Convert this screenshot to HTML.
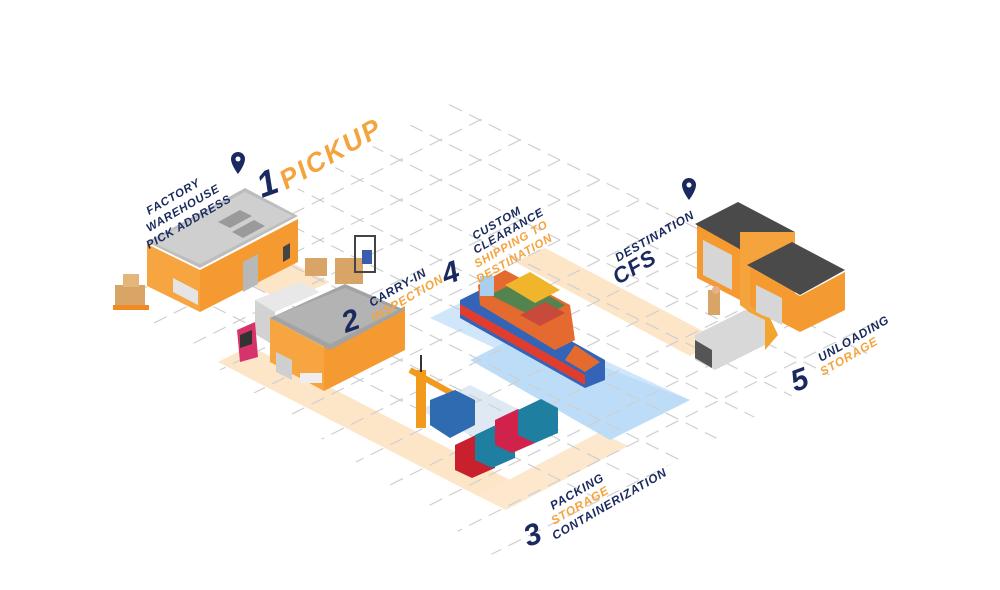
<!DOCTYPE html>
<html><head><meta charset="utf-8"><style>
html,body{margin:0;padding:0;background:#fff;width:1000px;height:590px;overflow:hidden}
svg{display:block}
text{font-family:"Liberation Sans",sans-serif;font-weight:bold;font-style:italic;letter-spacing:0.8px}
.n{fill:#1b2a5e}.o{fill:#f5a33c}
</style></head><body>
<svg width="1000" height="590" viewBox="0 0 1000 590" xmlns="http://www.w3.org/2000/svg">
<defs>
<clipPath id="g"><polygon points="455,100 900,335 500,560 110,295"/></clipPath>
</defs>
<polygon points="245,282 290,262 330,282 285,302" fill="#fde5c8"/>
<polygon points="218,362 250,346 510,480 478,496" fill="#fde5c8"/>
<polygon points="478,496 600,432 628,446 506,510" fill="#fde5c8" opacity=".9"/>
<polygon points="515,262 545,248 720,340 690,356" fill="#fde5c8"/>
<polygon points="430,318 470,298 690,400 650,420" fill="#cfe6fb"/>
<polygon points="470,360 520,335 690,400 610,440" fill="#bcdcf7"/>
<polygon points="420,410 470,385 560,430 510,455" fill="#dfe9f3"/>
<g clip-path="url(#g)" stroke="#cfcfcf" stroke-width="1.2" stroke-dasharray="14,8">
<g>
<line x1="-200" y1="100" x2="1200" y2="800"/><line x1="-200" y1="60" x2="1200" y2="760"/><line x1="-200" y1="20" x2="1200" y2="720"/><line x1="-200" y1="-20" x2="1200" y2="680"/><line x1="-200" y1="-60" x2="1200" y2="640"/><line x1="-200" y1="-100" x2="1200" y2="600"/><line x1="-200" y1="-140" x2="1200" y2="560"/><line x1="-200" y1="-180" x2="1200" y2="520"/><line x1="-200" y1="-220" x2="1200" y2="480"/><line x1="-200" y1="-260" x2="1200" y2="440"/><line x1="-200" y1="-300" x2="1200" y2="400"/><line x1="-200" y1="-340" x2="1200" y2="360"/><line x1="-200" y1="-380" x2="1200" y2="320"/><line x1="-200" y1="-420" x2="1200" y2="280"/><line x1="-200" y1="-460" x2="1200" y2="240"/><line x1="-200" y1="-500" x2="1200" y2="200"/>
</g>
<g>
<line x1="-200" y1="300" x2="1200" y2="-400"/><line x1="-200" y1="340" x2="1200" y2="-360"/><line x1="-200" y1="380" x2="1200" y2="-320"/><line x1="-200" y1="420" x2="1200" y2="-280"/><line x1="-200" y1="460" x2="1200" y2="-240"/><line x1="-200" y1="500" x2="1200" y2="-200"/><line x1="-200" y1="540" x2="1200" y2="-160"/><line x1="-200" y1="580" x2="1200" y2="-120"/><line x1="-200" y1="620" x2="1200" y2="-80"/><line x1="-200" y1="660" x2="1200" y2="-40"/><line x1="-200" y1="700" x2="1200" y2="0"/><line x1="-200" y1="740" x2="1200" y2="40"/><line x1="-200" y1="780" x2="1200" y2="80"/><line x1="-200" y1="820" x2="1200" y2="120"/><line x1="-200" y1="860" x2="1200" y2="160"/><line x1="-200" y1="900" x2="1200" y2="200"/><line x1="-200" y1="940" x2="1200" y2="240"/><line x1="-200" y1="980" x2="1200" y2="280"/>
</g>
</g>
<!-- warehouse 1 -->
<polygon points="147,244 200,270 200,312 147,286" fill="#f7a540"/>
<polygon points="200,270 298,219 298,262 200,312" fill="#f59a30"/>
<polygon points="147,242 245,188 298,216 200,268" fill="#bdbdbd"/>
<polygon points="151,242 245,192 293,216 200,264" fill="#cfcfcf"/>
<polygon points="218,222 240,210 252,216 230,228" fill="#9a9a9a"/>
<polygon points="232,232 254,220 265,226 243,238" fill="#9a9a9a"/>
<polygon points="173,278 198,291 198,305 173,292" fill="#e5e5e5"/>
<polygon points="243,262 258,254 258,284 243,292" fill="#b8b8b8"/>
<polygon points="283,247 290,243 290,258 283,262" fill="#444"/>
<rect x="115" y="285" width="30" height="22" fill="#d9a566"/><rect x="123" y="274" width="16" height="13" fill="#e4b679"/>
<rect x="113" y="305" width="36" height="5" fill="#f08a24"/>
<rect x="305" y="258" width="22" height="18" fill="#d9a566"/>
<rect x="335" y="258" width="28" height="26" fill="#d9a566"/>
<rect x="355" y="236" width="20" height="36" fill="none" stroke="#444" stroke-width="2"/>
<rect x="362" y="250" width="10" height="14" fill="#3a5eab"/>
<!-- warehouse 2 + truck -->
<polygon points="255,300 300,282 320,292 275,312" fill="#e8e8e8"/>
<polygon points="255,300 275,312 275,346 255,334" fill="#d2d2d2"/>
<polygon points="237,330 255,322 258,357 240,362" fill="#d6336c"/>
<polygon points="240,335 252,330 252,344 240,348" fill="#333"/>
<polygon points="270,318 324,347 324,391 270,362" fill="#f7a540"/>
<polygon points="324,347 405,306 405,350 324,391" fill="#f59a30"/>
<polygon points="270,318 345,284 405,310 330,350" fill="#a3a3a3"/>
<polygon points="275,316 345,288 398,310 330,344" fill="#b3b3b3"/>
<polygon points="276,352 292,360 292,380 276,372" fill="#cfcfcf"/>
<rect x="300" y="373" width="22" height="10" fill="#eee"/>
<!-- crane -->
<rect x="416" y="370" width="10" height="58" fill="#f29a1e"/>
<line x1="410" y1="370" x2="455" y2="395" stroke="#f29a1e" stroke-width="6"/>
<line x1="421" y1="355" x2="421" y2="372" stroke="#333" stroke-width="2"/>
<polygon points="430,400 455,390 475,400 475,425 450,438 430,425" fill="#2f6bb0"/>
<!-- containers -->
<polygon points="455,445 478,434 495,443 495,468 472,478 455,470" fill="#c8202d"/>
<polygon points="475,435 498,424 515,433 515,458 492,468 475,460" fill="#1f7fa0"/>
<polygon points="495,420 518,409 535,418 535,443 512,453 495,445" fill="#d0224b"/>
<polygon points="518,410 541,399 558,408 558,433 535,443 518,435" fill="#1f7fa0"/>
<!-- ship -->
<polygon points="460,300 480,290 605,360 605,380 585,388 460,318" fill="#3464b8"/>
<polygon points="460,304 585,375 585,385 460,314" fill="#e03d2f"/>
<polygon points="478,285 505,270 570,305 575,340 555,350 480,305" fill="#e56a2f"/>
<polygon points="490,295 520,280 565,305 540,320" fill="#2e8b57" opacity=".8"/>
<polygon points="505,285 530,272 560,290 535,303" fill="#f0b52a"/>
<polygon points="520,315 545,302 565,313 540,326" fill="#c84a3a"/>
<rect x="480" y="276" width="14" height="20" fill="#a8d0ee"/>
<polygon points="575,345 600,362 585,372 565,360" fill="#e56a2f"/>
<!-- CFS -->
<polygon points="697,225 740,206 752,222 740,230 740,300 697,278" fill="#f59a30"/>
<polygon points="695,224 738,202 795,232 752,256" fill="#4a4a4a"/>
<polygon points="740,232 795,232 795,300 760,320 740,305" fill="#f5a33c"/>
<polygon points="747,265 792,242 845,270 800,295" fill="#4a4a4a"/>
<polygon points="750,268 800,296 800,332 750,306" fill="#f59a30"/>
<polygon points="800,296 845,272 845,310 800,332" fill="#f39a30"/>
<polygon points="703,240 732,255 732,290 703,275" fill="#d6d6d6"/>
<polygon points="756,285 782,298 782,325 756,312" fill="#d6d6d6"/>
<rect x="708" y="290" width="12" height="25" fill="#d9a566"/>
<circle cx="716" cy="290" r="4" fill="#e8b08a"/>
<!-- truck white -->
<polygon points="695,335 745,310 765,320 765,345 715,370 695,360" fill="#d8d8d8"/>
<polygon points="745,310 770,318 778,335 765,350 765,320" fill="#f2a530"/>
<polygon points="695,340 712,350 712,368 695,358" fill="#555"/>
<!-- pins -->
<path d="M238,152 a7,7 0 0 1 7,7 c0,6 -7,15 -7,15 c0,0 -7,-9 -7,-15 a7,7 0 0 1 7,-7z" fill="#1b2a5e"/>
<circle cx="238" cy="159" r="2.5" fill="#fff"/>
<path d="M689,178 a7,7 0 0 1 7,7 c0,6 -7,15 -7,15 c0,0 -7,-9 -7,-15 a7,7 0 0 1 7,-7z" fill="#1b2a5e"/>
<circle cx="689" cy="185" r="2.5" fill="#fff"/>
<!-- text -->
<g transform="translate(262,198) rotate(-20)"><text class="n" font-size="36">1</text></g>
<g transform="translate(286,190) rotate(-30)"><text class="o" font-size="27" style="letter-spacing:2px">PICKUP</text></g>
<g transform="translate(149,215) rotate(-30)"><text class="n" font-size="11.5">FACTORY</text></g>
<g transform="translate(149,232) rotate(-30)"><text class="n" font-size="11.5">WAREHOUSE</text></g>
<g transform="translate(149,249) rotate(-30)"><text class="n" font-size="11.5">PICK ADDRESS</text></g>
<g transform="translate(346,333) rotate(-20)"><text class="n" font-size="30">2</text></g>
<g transform="translate(372,307) rotate(-30)"><text class="n" font-size="12">CARRY-IN</text></g>
<g transform="translate(374,322) rotate(-30)"><text class="o" font-size="12">INSPECTION</text></g>
<g transform="translate(446,285) rotate(-20)"><text class="n" font-size="30">4</text></g>
<g transform="translate(475,240) rotate(-30)"><text class="n" font-size="11.5">CUSTOM</text></g>
<g transform="translate(476,254) rotate(-30)"><text class="n" font-size="11.5">CLEARANCE</text></g>
<g transform="translate(477,268) rotate(-30)"><text class="o" font-size="11.5">SHIPPING TO</text></g>
<g transform="translate(479,283) rotate(-30)"><text class="o" font-size="11.5">DESTINATION</text></g>
<g transform="translate(618,262) rotate(-30)"><text class="n" font-size="12">DESTINATION</text></g>
<g transform="translate(618,285) rotate(-30)"><text class="n" font-size="22">CFS</text></g>
<g transform="translate(795,392) rotate(-20)"><text class="n" font-size="30">5</text></g>
<g transform="translate(821,362) rotate(-30)"><text class="n" font-size="12">UNLOADING</text></g>
<g transform="translate(823,376) rotate(-30)"><text class="o" font-size="12">STORAGE</text></g>
<g transform="translate(528,547) rotate(-20)"><text class="n" font-size="30">3</text></g>
<g transform="translate(553,510) rotate(-30)"><text class="n" font-size="12">PACKING</text></g>
<g transform="translate(554,525) rotate(-30)"><text class="o" font-size="12">STORAGE</text></g>
<g transform="translate(555,540) rotate(-30)"><text class="n" font-size="12">CONTAINERIZATION</text></g>
</svg>
</body></html>
